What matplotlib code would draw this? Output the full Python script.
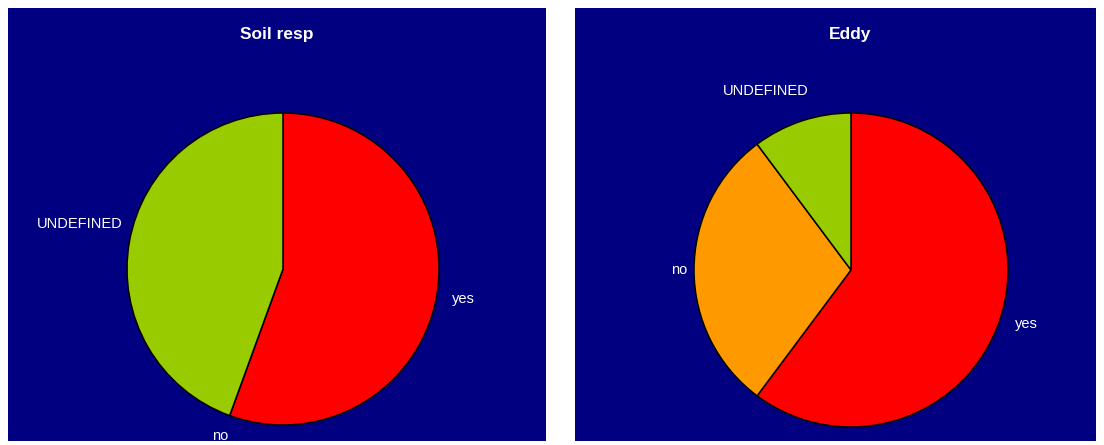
import matplotlib.pyplot as plt

# Category shares for each panel (yes / no / UNDEFINED)
categories = ["yes", "no", "UNDEFINED"]
soil_resp = [5, 0, 4]
eddy = [59, 29, 10]

colors = ["#ff0000", "#ff9900", "#99cc00"]
navy = "#000080"

W, H = 1104, 445


def draw_panel(fig, box, title, values, center, radius, title_x):
    """Draw one navy panel holding a unit pie; limits are scaled so the pie
    sits at the given pixel centre with the given pixel radius."""
    x0, y0, w, h = box
    ax = fig.add_axes([x0 / W, (H - y0 - h) / H, w / W, h / H])
    ax.set_facecolor(navy)
    cx, cy = center[0] - x0, (y0 + h) - center[1]
    wedges, texts = ax.pie(
        values,
        labels=categories,
        colors=colors,
        startangle=90,
        counterclock=False,
        labeldistance=1.1,
        frame=True,
        wedgeprops=dict(edgecolor="black", linewidth=1.1),
        textprops=dict(color="white", fontsize=10.5, family="Liberation Sans"),
    )
    ax.set_xlim(-cx / radius, (w - cx) / radius)
    ax.set_ylim(-cy / radius, (h - cy) / radius)
    ax.set_aspect("auto")
    ax.set_xticks([])
    ax.set_yticks([])
    for s in ax.spines.values():
        s.set_visible(False)
    ax.text((title_x - x0) / w, 1 - 27 / h, title, transform=ax.transAxes,
            color="white", fontsize=12.5, fontweight="bold",
            family="Liberation Sans", ha="center", va="center")
    return ax, texts


fig = plt.figure(figsize=(W / 100, H / 100), dpi=100)
fig.patch.set_facecolor("white")

ax1, texts1 = draw_panel(fig, (8, 8, 538, 433), "Soil resp", soil_resp, (283, 269), 156, 277)
ax2, texts2 = draw_panel(fig, (575, 8, 521, 433), "Eddy", eddy, (851, 270), 157, 850)

# nudge a few labels to sit a bit closer to their wedges
texts1[2].set_position((-1.03, 0.29))
texts1[1].set_horizontalalignment("center")
texts1[1].set_position((-0.40, -1.07))
texts2[1].set_position((-1.04, 0.0))
texts2[2].set_horizontalalignment("center")
texts2[2].set_position((-0.54, 1.14))

fig.savefig("out.png", dpi=100, facecolor=fig.get_facecolor())
plt.close(fig)
